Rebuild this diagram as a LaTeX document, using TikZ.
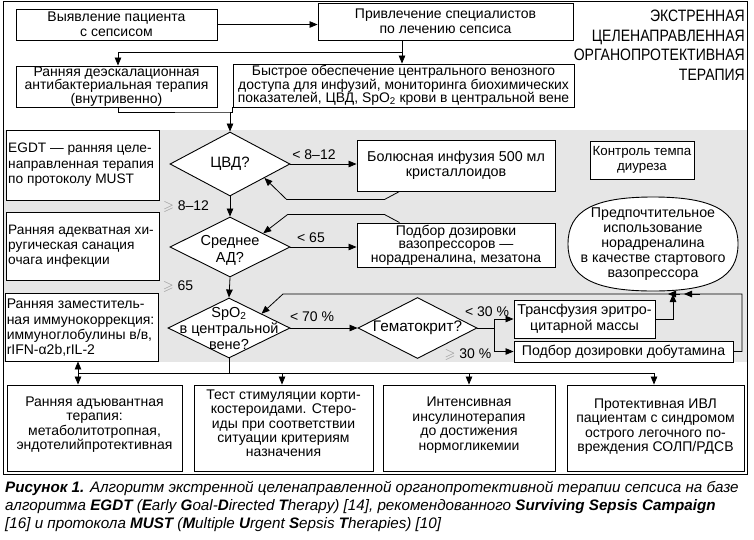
\documentclass[tikz,border=0pt]{standalone}
\usepackage{fontspec}
\usepackage{amssymb}
\setmainfont{Liberation Sans}
\newfontfamily\titlefont[FakeStretch=0.85]{Liberation Sans}
\newfontfamily\capfont{Liberation Sans}
\usetikzlibrary{arrows.meta,shapes.geometric,calc}
\definecolor{bgray}{RGB}{230,230,230}
\definecolor{lgray}{RGB}{150,150,150}
\newcommand{\gsl}{\textcolor{lgray}{$\geqslant$}}
\begin{document}
\begin{tikzpicture}[x=1pt,y=-1pt,
  every node/.style={font=\fontsize{14}{15}\selectfont},
  box/.style={draw, line width=0.9pt, fill=white, inner sep=0pt, align=center},
  dia/.style={diamond, draw, line width=0.9pt, fill=white, inner sep=0pt},
  txt/.style={inner sep=0pt, align=center},
  con/.style={line width=0.8pt},
  arr/.style={con, -{Triangle[length=8pt,width=6.5pt]}},
  lab/.style={inner sep=0pt}]
\useasboundingbox (0,0) rectangle (754,539);
\fill[bgray] (3,130) rectangle (747,362);
\draw[line width=1pt] (3,1) rectangle (747,474);

% top
\node[box, minimum width=201pt, minimum height=31pt] (vyav) at (116.5,24.5) {Выявление пациента\\с сепсисом};
\node[box, minimum width=255pt, minimum height=37pt] (priv) at (445.5,21.5) {Привлечение специалистов\\по лечению сепсиса};
\node[box, minimum width=201pt, minimum height=41pt, font=\fontsize{14}{13.3}\selectfont] (deesk) at (116.5,86.5) {Ранняя деэскалационная\\антибактериальная терапия\\(внутривенно)};
\node[box, minimum width=341pt, minimum height=43pt, font=\fontsize{13.9}{13.5}\selectfont] (bystr) at (403.5,85.5) {Быстрое обеспечение центрального венозного\\доступа для инфузий, мониторинга биохимических\\показателей, ЦВД, SpO\textsubscript{2} крови в центральной вене};
\node[anchor=north east, align=right, inner sep=0pt, font=\titlefont\fontsize{16.5}{19.5}\selectfont] (title) at (745,10) {ЭКСТРЕННАЯ\\ЦЕЛЕНАПРАВЛЕННАЯ\\ОРГАНОПРОТЕКТИВНАЯ\\ТЕРАПИЯ};

% left column
\node[box, minimum width=153pt, minimum height=70pt] (egdt) at (82.5,165) {};
\node[anchor=west, align=left, inner sep=0pt, font=\fontsize{13.7}{15.5}\selectfont] (egdtt) at ($(egdt.west)+(2.5,0)$) {EGDT — ранняя целе-\\направленная терапия\\по протоколу MUST};
\node[box, minimum width=153pt, minimum height=68pt] (hir) at (82.5,246) {};
\node[anchor=west, align=left, inner sep=0pt, font=\fontsize{13.7}{15}\selectfont] (hirt) at ($(hir.west)+(2.5,0)$) {Ранняя адекватная хи-\\ругическая санация\\очага инфекции};
\node[box, minimum width=153pt, minimum height=68pt] (zam) at (81.5,327) {};
\node[anchor=west, align=left, inner sep=0pt, font=\fontsize{14}{15.3}\selectfont] (zamt) at ($(zam.west)+(2,1)$) {Ранняя заместитель-\\ная иммунокоррекция:\\иммуноглобулины в/в,\\rIFN-α2b,rIL-2};

% diamonds
\node[dia, minimum width=120pt, minimum height=64pt] (cvd) at (230,164) {};
\node[txt, font=\fontsize{15}{16}\selectfont] (cvdt) at (cvd.center) {ЦВД?};
\node[dia, minimum width=120pt, minimum height=60pt] (ad) at (230,247) {};
\node[txt, font=\fontsize{14.5}{17}\selectfont] (adt) at ($(ad.center)+(0,3)$) {Среднее\\АД?};
\node[dia, minimum width=122pt, minimum height=60pt] (spo) at (229,328) {};
\node[txt, font=\fontsize{14.5}{16}\selectfont] (spot) at (spo.center) {SpO\textsubscript{2}\\в центральной\\вене?};
\node[dia, minimum width=119pt, minimum height=61pt] (gem) at (417.5,328) {};
\node[txt, font=\fontsize{15.3}{16}\selectfont] (gemt) at (gem.center) {Гематокрит?};

% right
\node[box, minimum width=198pt, minimum height=51pt, font=\fontsize{14.3}{15}\selectfont] (bolus) at (456,165.5) {Болюсная инфузия 500 мл\\кристаллоидов};
\node[box, minimum width=198pt, minimum height=44pt, font=\fontsize{14}{13.6}\selectfont] (podbor) at (456,245) {Подбор дозировки\\вазопрессоров —\\норадреналина, мезатона};
\node[box, minimum width=104pt, minimum height=38pt, font=\fontsize{13.3}{15}\selectfont] (kontrol) at (642,160) {Контроль темпа\\диуреза};
\draw[line width=0.9pt, fill=white] (738,244) .. controls (738,211) and (713,197) .. (653,197) .. controls (593,197) and (568,211) .. (568,244) .. controls (568,277) and (593,291) .. (653,291) .. controls (713,291) and (738,277) .. (738,244);
\node[txt, font=\fontsize{14.2}{15.2}\selectfont] (ellt) at (653,244) {Предпочтительное\\использование\\норадреналина\\в качестве стартового\\вазопрессора};
\node[box, minimum width=141pt, minimum height=38pt, font=\fontsize{14.3}{16}\selectfont] (transf) at (584.5,319) {Трансфузия эритро-\\цитарной массы};
\node[box, minimum width=219pt, minimum height=21pt, font=\fontsize{14.1}{15}\selectfont] (dobut) at (623.5,351.5) {Подбор дозировки добутамина};

% bottom
\node[box, minimum width=175pt, minimum height=86pt] (A) at (94.5,428) {};
\node[txt, font=\fontsize{14}{14.5}\selectfont] (At) at ($(A.center)+(0,-3.5)$) {Ранняя адъювантная\\терапия:\\метаболитотропная,\\эндотелийпротективная};
\node[box, minimum width=179pt, minimum height=86pt] (B) at (283.5,428) {};
\node[txt, font=\fontsize{14}{14.3}\selectfont] (Bt) at ($(B.center)+(0,-4.5)$) {Тест стимуляции корти-\\костероидами. Стеро-\\иды при соответствии\\ситуации критериям\\назначения};
\node[box, minimum width=172pt, minimum height=86pt] (C) at (469,428) {};
\node[txt, font=\fontsize{14}{14.7}\selectfont] (Ct) at ($(C.center)+(0,-3)$) {Интенсивная\\инсулинотерапия\\до достижения\\нормогликемии};
\node[box, minimum width=177pt, minimum height=86pt] (D) at (655.5,428) {};
\node[txt, font=\fontsize{14}{14.5}\selectfont] (Dt) at ($(D.center)+(0,-1.5)$) {Протективная ИВЛ\\пациентам с синдромом\\острого легочного по-\\вреждения СОЛП/РДСВ};

% coordinates
\coordinate (x118) at (118,0);
\coordinate (j1) at (402,52);
\coordinate (j2) at (230,112);
\coordinate (j3) at (494,328);
\coordinate (j4) at (673,294);
\coordinate (j5) at (742,294);
\coordinate (j6) at (283,294);
\coordinate (j7) at (229,373);
\coordinate (b1) at (78,373);
\coordinate (b2) at (282,373);
\coordinate (b3) at (469,373);
\coordinate (b4) at (654,373);

% connectors
\draw[arr] (vyav.east) -- (priv.west |- vyav.east);
\draw[con] (priv.south -| j1) -- (j1);
\draw[arr] (j1) -- (bystr.north -| j1);
\draw[arr] (j1) -| (deesk.north -| x118);
\draw[con] (deesk.south -| x118) |- (j2) -| (bystr.south west);
\draw[arr] (j2) -- (cvd.north);
\draw[arr] (cvd.east) -- (bolus.west |- cvd.east);
\draw[arr] ($(bolus.south west)+(43,0)$) -- ++(-15,8) -- ++(-98,0) -- ($(cvd.east)!0.43!(cvd.south)$);
\draw[arr] (cvd.south) -- (ad.north);
\draw[arr] (ad.east) -- (podbor.west |- ad.east);
\draw[arr] ($(podbor.north west)+(43,0)$) -- ++(-15,-8) -- ++(-97,0) -- ($(ad.east)!0.45!(ad.north)$);
\draw[arr] (ad.south) -- (spo.north);
\draw[arr] (spo.east) -- (gem.west);
\draw[con] (gem.east) -- (j3);
\draw[arr] (j3) |- (transf.west);
\draw[arr] (j3) |- (dobut.west);
\draw[arr] (transf.east) -| (j4);
\draw[arr] (dobut.east) -| (j5) -- (j6) -- ($(spo.east)!0.47!(spo.north)$);
\draw[arr] ($(j5)+(-42,0)$) -- ($(j5)+(-58,0)$);
\draw[arr] ($(j5)+(-62,0)$) -- ($(j5)+(-74,0)$);
\draw[con] (spo.south) -- (j7);
\draw[con] (b1) -- (b4);
\draw[arr] (b2) -- (B.north -| b2);
\draw[arr] (b3) -- (C.north -| b3);
\draw[arr] (b4) -- (D.north -| b4);
\draw[con, {Triangle[length=8pt,width=6.5pt]}-{Triangle[length=8pt,width=6.5pt]}] (zam.south -| b1) -- (A.north -| b1);

% labels
\node[lab] (l1) at (314,155) {< 8–12};
\node[lab] (l2) at (186,207) {\gsl\ 8–12};
\node[lab] (l3) at (311,238) {< 65};
\node[lab] (l4) at (178,287) {\gsl\ 65};
\node[lab] (l5) at (312,317) {< 70 \%};
\node[lab] (l6) at (487,312) {< 30 \%};
\node[lab] (l7) at (468,355) {\gsl\ 30 \%};

% caption
\node[anchor=north west, align=left, inner sep=0pt, font=\capfont\itshape\fontsize{15.2}{18}\selectfont] (cap) at (5,481) {\textbf{Рисунок 1.} Алгоритм экстренной целенаправленной органопротективной терапии сепсиса на базе\\алгоритма \textbf{EGDT} (\textbf{E}arly \textbf{G}oal-\textbf{D}irected \textbf{T}herapy) [14], рекомендованного \textbf{Surviving Sepsis Campaign}\\{}[16] и протокола \textbf{MUST} (\textbf{M}ultiple \textbf{U}rgent \textbf{S}epsis \textbf{T}herapies) [10]};
\end{tikzpicture}
\end{document}
